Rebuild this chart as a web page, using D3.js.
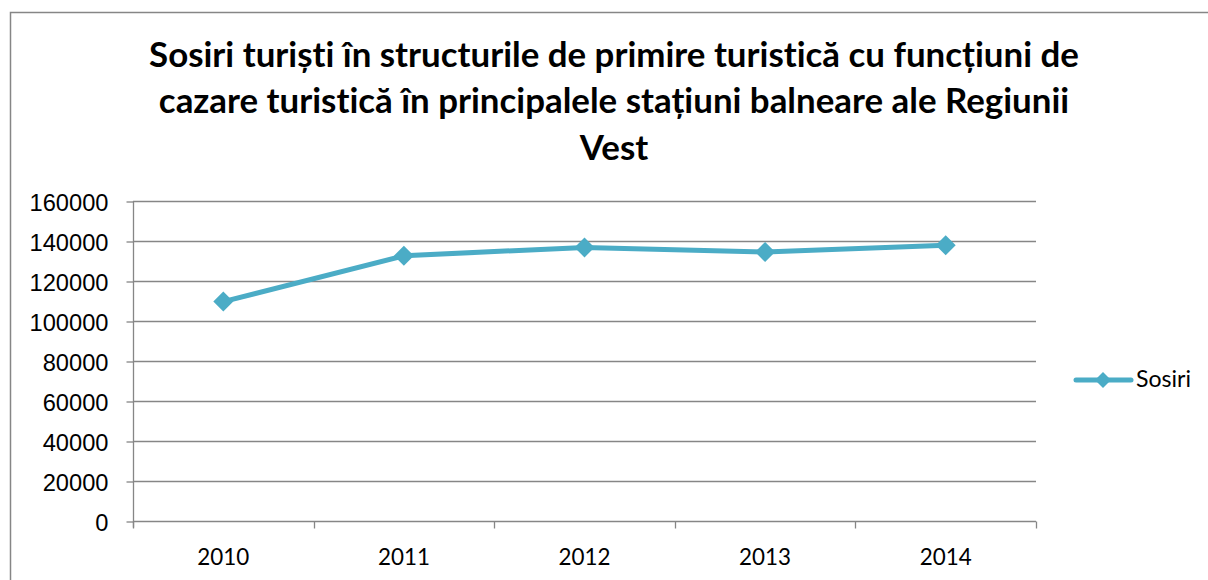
<!DOCTYPE html>
<html>
<head>
<meta charset="utf-8">
<script src="https://cdn.jsdelivr.net/npm/d3@7"></script>
<style>
  body { margin: 0; background: #fff; }
  svg { display: block; font-family: Lato, "Open Sans", sans-serif; font-variant-ligatures: none; }
</style>
</head>
<body>
<svg id="chart"></svg>
<script>
const titleLines = [
  "Sosiri turiști în structurile de primire turistică cu funcțiuni de",
  "cazare turistică în principalele stațiuni balneare ale Regiunii",
  "Vest"
];
const years = ["2010", "2011", "2012", "2013", "2014"];
const sosiri = [109700, 132600, 136800, 134500, 137900];
const yTicks = [0, 20000, 40000, 60000, 80000, 100000, 120000, 140000, 160000];
const seriesName = "Sosiri";

const w = 1208;
const h = 580;
const color = "#4bacc6";
const gray = "#868686";

const svg = d3.select("#chart").attr("width", w).attr("height", h);

// chart border (runs off the right and bottom edges)
svg.append("rect")
  .attr("x", 10.5).attr("y", 12.5)
  .attr("width", w).attr("height", h)
  .attr("fill", "none").attr("stroke", gray).attr("stroke-width", 1.5);

// scale a text's font so it spans a given width
function fit(sel, target) {
  sel.each(function () {
    const len = this.getComputedTextLength();
    const fs = parseFloat(d3.select(this).attr("font-size"));
    d3.select(this).attr("font-size", fs * target / len);
  });
}

const title = svg.append("g").attr("font-weight", "bold").attr("fill", "#000");
const t1 = title.append("text")
  .attr("x", 614).attr("y", 67).attr("text-anchor", "middle")
  .attr("font-size", 30).text(titleLines[0]);
fit(t1, 930);
const tfs = t1.attr("font-size");
title.selectAll("text.more")
  .data(titleLines.slice(1))
  .enter().append("text")
  .attr("class", "more")
  .attr("x", 614).attr("y", (d, i) => 113 + i * 46.5)
  .attr("text-anchor", "middle")
  .attr("font-size", tfs)
  .text((d) => d);

const pLeft = 133, pRight = 1036, pTop = 201, pBottom = 521;

const x = d3.scaleBand().domain(years).range([pLeft, pRight]).padding(0);
const y = d3.scaleLinear().domain([0, 160000]).range([pBottom, pTop]);

// gridlines
svg.append("g")
  .selectAll("line")
  .data(yTicks.slice(1))
  .enter().append("line")
  .attr("x1", pLeft).attr("x2", pRight)
  .attr("y1", (d) => Math.round(y(d)) + 0.5).attr("y2", (d) => Math.round(y(d)) + 0.5)
  .attr("stroke", gray).attr("stroke-width", 1.3);

// y axis
const yAxis = d3.axisLeft(y).tickValues(yTicks).tickSize(7).tickPadding(18).tickFormat(d3.format("d"));
const gy = svg.append("g").attr("transform", `translate(${pLeft + 0.5},0.5)`).call(yAxis);
gy.select(".domain").attr("stroke", gray).attr("stroke-width", 1.3).attr("d", `M0,${pBottom + 6}V${pTop - 0.5}`);
gy.selectAll(".tick line").attr("stroke", gray).attr("stroke-width", 1.3);
gy.selectAll(".tick text").attr("font-size", 18).attr("fill", "#000").attr("dy", "0.36em");
gy.selectAll(".tick text").filter((d) => d === 160000).call(fit, 79);
const yfs = gy.selectAll(".tick text").filter((d) => d === 160000).attr("font-size");
gy.selectAll(".tick text").attr("font-size", yfs);

// x axis
const gx = svg.append("g").attr("transform", `translate(0,${pBottom + 0.5})`);
gx.append("line").attr("x1", pLeft).attr("x2", pRight)
  .attr("stroke", gray).attr("stroke-width", 1.3);
gx.selectAll("line.tk")
  .data(years.map((d) => x(d)).concat([x.range()[1]]))
  .enter().append("line")
  .attr("class", "tk")
  .attr("x1", (d) => Math.round(d) + 0.5).attr("x2", (d) => Math.round(d) + 0.5)
  .attr("y1", 0).attr("y2", 7)
  .attr("stroke", gray).attr("stroke-width", 1.3);
const xl = gx.selectAll("text")
  .data(years)
  .enter().append("text")
  .attr("x", (d) => x(d) + x.bandwidth() / 2)
  .attr("y", 43)
  .attr("text-anchor", "middle")
  .attr("font-size", 18).attr("fill", "#000")
  .text((d) => d);
xl.filter((d, i) => i === 0).call(fit, 52);
xl.attr("font-size", xl.filter((d, i) => i === 0).attr("font-size"));

// series
const cx = (d, i) => x(years[i]) + x.bandwidth() / 2;
const line = d3.line().x(cx).y((d) => y(d));
svg.append("path")
  .datum(sosiri)
  .attr("d", line)
  .attr("fill", "none").attr("stroke", color).attr("stroke-width", 5)
  .attr("stroke-linejoin", "round").attr("stroke-linecap", "round");

const diamond = (r) => `M0,${-r}L${r},0L0,${r}L${-r},0Z`;
svg.append("g")
  .selectAll("path")
  .data(sosiri)
  .enter().append("path")
  .attr("transform", (d, i) => `translate(${cx(d, i)},${y(d)})`)
  .attr("d", diamond(10))
  .attr("fill", color);

// legend
const lg = svg.append("g").attr("transform", "translate(1076,380)");
lg.append("line").attr("x1", 0).attr("x2", 55)
  .attr("stroke", color).attr("stroke-width", 5).attr("stroke-linecap", "round");
lg.append("path").attr("transform", "translate(27,0)").attr("d", diamond(8)).attr("fill", color);
const lt = lg.append("text").attr("x", 60).attr("y", 7)
  .attr("font-size", 18).attr("fill", "#000").text(seriesName);
fit(lt, 55);
</script>
</body>
</html>
